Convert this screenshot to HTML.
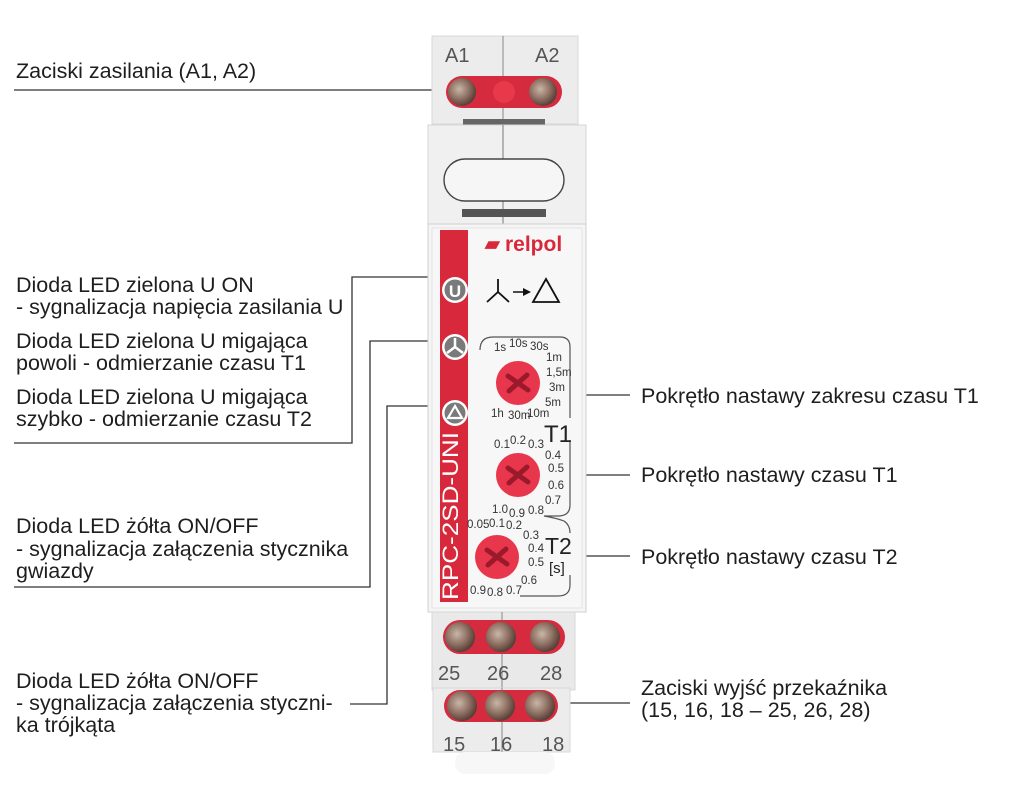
<!DOCTYPE html>
<html><head><meta charset="utf-8"><style>
html,body{margin:0;padding:0;background:#fff;}
svg{display:block}
.t{font-family:"Liberation Sans",sans-serif;font-size:21.5px;fill:#1e1e1e}
.s{font-family:"Liberation Sans",sans-serif;font-size:11.5px;fill:#333}
.n{font-family:"Liberation Sans",sans-serif;font-size:20px;fill:#555}
</style></head><body>
<svg width="1024" height="800" viewBox="0 0 1024 800" xmlns="http://www.w3.org/2000/svg">
<defs>
<radialGradient id="scr" cx="40%" cy="40%" r="60%"><stop offset="0" stop-color="#c9b6a6"/><stop offset="0.6" stop-color="#8d6f62"/><stop offset="1" stop-color="#5a4038"/></radialGradient>
</defs>
<g stroke="#333" stroke-width="1.3" fill="none">
<path d="M14 90 H432"/>
<path d="M14 443 H352 V277 H430"/>
<path d="M14 587 H370 V341 H430"/>
<path d="M350 704 H387 V406 H430"/>
<path d="M575 395 H630"/>
<path d="M570 475 H630"/>
<path d="M575 556 H630"/>
<path d="M570 703 H630"/>
</g>
<text class="t" x="16" y="78">Zaciski zasilania (A1, A2)</text>
<text class="t" x="16" y="292">Dioda LED zielona U ON</text>
<text class="t" x="16" y="314">- sygnalizacja napięcia zasilania U</text>
<text class="t" x="16" y="348">Dioda LED zielona U migająca</text>
<text class="t" x="16" y="370">powoli - odmierzanie czasu T1</text>
<text class="t" x="16" y="404">Dioda LED zielona U migająca</text>
<text class="t" x="16" y="426">szybko - odmierzanie czasu T2</text>
<text class="t" x="16" y="533">Dioda LED żółta ON/OFF</text>
<text class="t" x="16" y="556">- sygnalizacja załączenia stycznika</text>
<text class="t" x="16" y="578">gwiazdy</text>
<text class="t" x="16" y="688">Dioda LED żółta ON/OFF</text>
<text class="t" x="16" y="710">- sygnalizacja załączenia styczni-</text>
<text class="t" x="16" y="732">ka trójkąta</text>
<text class="t" x="641" y="403">Pokrętło nastawy zakresu czasu T1</text>
<text class="t" x="641" y="482">Pokrętło nastawy czasu T1</text>
<text class="t" x="641" y="564">Pokrętło nastawy czasu T2</text>
<text class="t" x="641" y="695">Zaciski wyjść przekaźnika</text>
<text class="t" x="641" y="717">(15, 16, 18 – 25, 26, 28)</text>

<rect x="432" y="36" width="146" height="88" fill="#ececec" stroke="#d8d8d8"/>
<line x1="503" y1="36" x2="503" y2="124" stroke="#888" stroke-width="1"/>
<text class="n" x="445" y="62" font-size="19">A1</text>
<text class="n" x="535" y="62" font-size="19">A2</text>
<rect x="446" y="76" width="116" height="32" rx="16" fill="#d62b3e"/>
<circle cx="504" cy="92" r="11" fill="#e8384a"/>
<circle cx="462" cy="92" r="14" fill="url(#scr)"/>
<circle cx="543" cy="92" r="14" fill="url(#scr)"/>
<rect x="463" y="119" width="82" height="6" fill="#666"/>
<rect x="428" y="125" width="158" height="100" fill="#f0f0f0" stroke="#d6d6d6"/>
<line x1="503" y1="125" x2="503" y2="225" stroke="#777"/>
<rect x="444" y="159" width="120" height="42" rx="21" fill="#f6f6f6" stroke="#444" stroke-width="1.4"/>
<rect x="462" y="209" width="84" height="8" fill="#555"/>
<rect x="428" y="224" width="158" height="388" fill="#f5f5f5" stroke="#d0d0d0"/>
<rect x="432" y="228" width="150" height="380" fill="#f7f7f7" stroke="#e3e3e3"/>
<rect x="440" y="230" width="28" height="372" fill="#d8283b"/>
<text x="0" y="0" transform="translate(458,600) rotate(-90)" font-family="Liberation Sans,sans-serif" font-size="22" fill="#fff" textLength="168" lengthAdjust="spacingAndGlyphs">RPC-2SD-UNI</text>
<g>
<circle cx="455" cy="290" r="13" fill="#fff"/><circle cx="455" cy="290" r="10.5" fill="#7a7a7a"/>
<text x="455" y="297" text-anchor="middle" font-family="Liberation Sans,sans-serif" font-weight="bold" font-size="17" fill="#fff">U</text>
<circle cx="455" cy="347" r="13" fill="#fff"/><circle cx="455" cy="347" r="10.5" fill="#7a7a7a"/>
<path d="M455 347 V338 M455 347 L447 353 M455 347 L463 353" stroke="#fff" stroke-width="2.5" fill="none"/>
<circle cx="455" cy="413" r="13" fill="#fff"/><circle cx="455" cy="413" r="10.5" fill="#7a7a7a"/>
<path d="M455 406 L462 418 H448 Z" stroke="#fff" stroke-width="2.2" fill="none"/>
</g>
<text x="485" y="250" font-family="Liberation Sans,sans-serif" font-weight="bold" font-size="19" fill="#d8283b">▰</text>
<text x="505" y="251" font-family="Liberation Sans,sans-serif" font-weight="bold" font-size="21" fill="#d8283b">relpol</text>
<path d="M487 302 L498 292 L509 302 M498 292 V279" stroke="#111" stroke-width="1.8" fill="none"/>
<path d="M513 292 H525" stroke="#111" stroke-width="1.5"/><path d="M531 292 L523 288 V296 Z" fill="#111"/>
<path d="M546 279 L559 302 H533 Z" stroke="#111" stroke-width="1.8" fill="none"/>
<g stroke="#555" stroke-width="1.2" fill="none">
<path d="M480 350 Q480 337 493 337 H560 Q570 337 570 347 V418"/>
<path d="M570 440 V505 Q570 516 558 516 H544 Q556 518 564 521 Q570 525 570 533"/>
<path d="M570 575 V585 Q570 596 558 596 H520"/>
</g>
<circle cx="518" cy="383" r="22" fill="#e8364c"/>
<circle cx="518" cy="475" r="22" fill="#e8364c"/>
<circle cx="497" cy="557" r="22" fill="#e8364c"/>
<g stroke="#9a1a2c" stroke-width="5" stroke-linecap="round">
<path d="M508 376 L528 390 M527 375 L509 391"/>
<path d="M508 468 L528 482 M527 467 L509 483"/>
<path d="M487 550 L507 564 M506 549 L488 565"/>
</g>
<g class="s">
<text x="494" y="351">1s</text><text x="509" y="347">10s</text><text x="530" y="350">30s</text>
<text x="546" y="361">1m</text><text x="546" y="376">1,5m</text><text x="549" y="391">3m</text>
<text x="545" y="406">5m</text><text x="527" y="417">10m</text><text x="508" y="419">30m</text><text x="491" y="417">1h</text>
<text x="494" y="448">0.1</text><text x="510" y="444">0.2</text><text x="528" y="448">0.3</text>
<text x="545" y="459">0.4</text><text x="548" y="472">0.5</text><text x="548" y="489">0.6</text>
<text x="545" y="504">0.7</text><text x="528" y="514">0.8</text><text x="509" y="517">0.9</text><text x="492" y="513">1.0</text>
<text x="467" y="528">0.05</text><text x="489" y="527">0.1</text><text x="506" y="529">0.2</text>
<text x="523" y="539">0.3</text><text x="528" y="552">0.4</text><text x="528" y="566">0.5</text>
<text x="521" y="584">0.6</text><text x="506" y="594">0.7</text><text x="487" y="596">0.8</text><text x="470" y="594">0.9</text>
</g>
<text x="544" y="442" font-family="Liberation Sans,sans-serif" font-size="24" fill="#222">T1</text>
<text x="545" y="554" font-family="Liberation Sans,sans-serif" font-size="23" fill="#222">T2</text>
<text x="549" y="573" font-family="Liberation Sans,sans-serif" font-size="15" fill="#222">[s]</text>
<rect x="432" y="612" width="143" height="78" fill="#e9e9e9" stroke="#d8d8d8"/>
<line x1="502" y1="612" x2="502" y2="750" stroke="#888"/>
<rect x="443" y="620" width="122" height="34" rx="17" fill="#d62b3e"/>
<circle cx="460" cy="637" r="15" fill="url(#scr)"/>
<circle cx="501" cy="637" r="15" fill="url(#scr)"/>
<circle cx="545" cy="637" r="15" fill="url(#scr)"/>
<text class="n" x="438" y="680">25</text><text class="n" x="487" y="680">26</text><text class="n" x="540" y="680">28</text>
<rect x="433" y="688" width="137" height="64" fill="#ececec" stroke="#d8d8d8"/>
<line x1="502" y1="688" x2="502" y2="752" stroke="#888"/>
<rect x="444" y="690" width="114" height="32" rx="16" fill="#d62b3e"/>
<circle cx="462" cy="706" r="15" fill="url(#scr)"/>
<circle cx="500" cy="706" r="15" fill="url(#scr)"/>
<circle cx="540" cy="706" r="15" fill="url(#scr)"/>
<text class="n" x="443" y="751">15</text><text class="n" x="490" y="751">16</text><text class="n" x="542" y="751">18</text>
<rect x="455" y="752" width="100" height="22" rx="10" fill="#f7f7f7"/>
</svg>
</body></html>
